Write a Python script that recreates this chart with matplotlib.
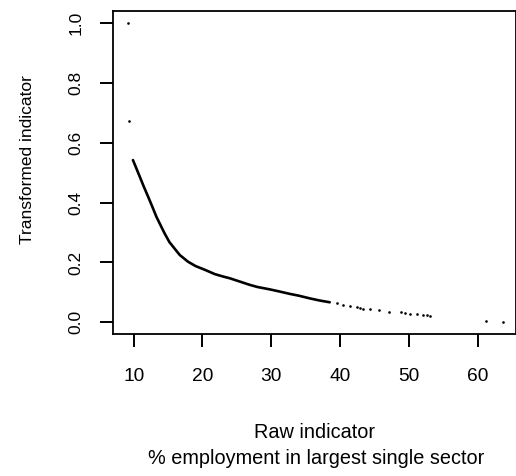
import matplotlib
matplotlib.use("Agg")
import matplotlib.pyplot as plt

# Dense main curve
curve_x = [9.9, 10.9, 11.5, 12.1, 12.7, 13.3, 13.9, 14.5, 15.2, 16.0, 16.7, 17.9, 19.0, 20.4,
           21.1, 21.8, 23.0, 24.0, 26.9, 28.0, 29.8, 31.0, 32.7, 34.0, 35.6, 37.0, 38.5]
curve_y = [0.542, 0.486, 0.452, 0.420, 0.387, 0.353, 0.325, 0.297, 0.268, 0.245, 0.225, 0.2025, 0.188, 0.175,
           0.168, 0.161, 0.153, 0.147, 0.125, 0.118, 0.110, 0.104, 0.095, 0.089, 0.080, 0.073, 0.067]

# Sparse tail points
tail_x = [39.5, 40.5, 41.5, 42.4, 42.9, 43.4, 44.4, 45.7, 47.1, 48.9, 49.4, 50.2, 51.2, 52.1, 52.7, 53.1, 61.2, 63.7]
tail_y = [0.063, 0.059, 0.055, 0.050, 0.047, 0.046, 0.043, 0.041, 0.036, 0.033, 0.032, 0.029, 0.027, 0.024, 0.023, 0.021, 0.005, 0.001]

# Isolated outliers at low raw values
out_x = [9.2, 9.27]
out_y = [1.0, 0.674]

xticks = [10, 20, 30, 40, 50, 60]
yticks = [0.0, 0.2, 0.4, 0.6, 0.8, 1.0]
ytick_labels = ["0.0", "0.2", "0.4", "0.6", "0.8", "1.0"]

plt.rcParams['font.family'] = ['Liberation Sans', 'DejaVu Sans']

W, H = 516, 476
fig = plt.figure(figsize=(W / 100, H / 100), dpi=100)
ax = fig.add_axes([113 / W, (H - 334) / H, (515.5 - 113) / W, (334 - 11) / H])

ax.plot(curve_x, curve_y, color='black', lw=1.9, solid_capstyle='round', solid_joinstyle='round')
ax.plot(tail_x, tail_y, 'o', color='black', ms=1.9, mec='none')
ax.plot(out_x, out_y, 'o', color='black', ms=1.9, mec='none')

ax.set_xlim(7.0, 65.5)
ax.set_ylim(-0.039, 1.04)
ax.set_xticks(xticks)
ax.set_yticks(yticks)
ax.set_yticklabels(ytick_labels, rotation=90, va='center')

for s in ax.spines.values():
    s.set_linewidth(1.3)
ax.tick_params(axis='both', direction='out', length=9.5, width=1.4, colors='black')
ax.tick_params(axis='x', pad=15, labelsize=13.8)
ax.tick_params(axis='y', pad=12, labelsize=12.5)

fig.text(315 / W, 1 - 432 / H, "Raw indicator", ha='center', va='center', fontsize=14.3)
fig.text(316 / W, 1 - 458 / H, "% employment in largest single sector", ha='center', va='center', fontsize=14.3)
fig.text(28 / W, 1 - 160 / H, "Transformed indicator", ha='center', va='center', rotation=90, fontsize=12.5)

fig.savefig("out.png", dpi=100)
